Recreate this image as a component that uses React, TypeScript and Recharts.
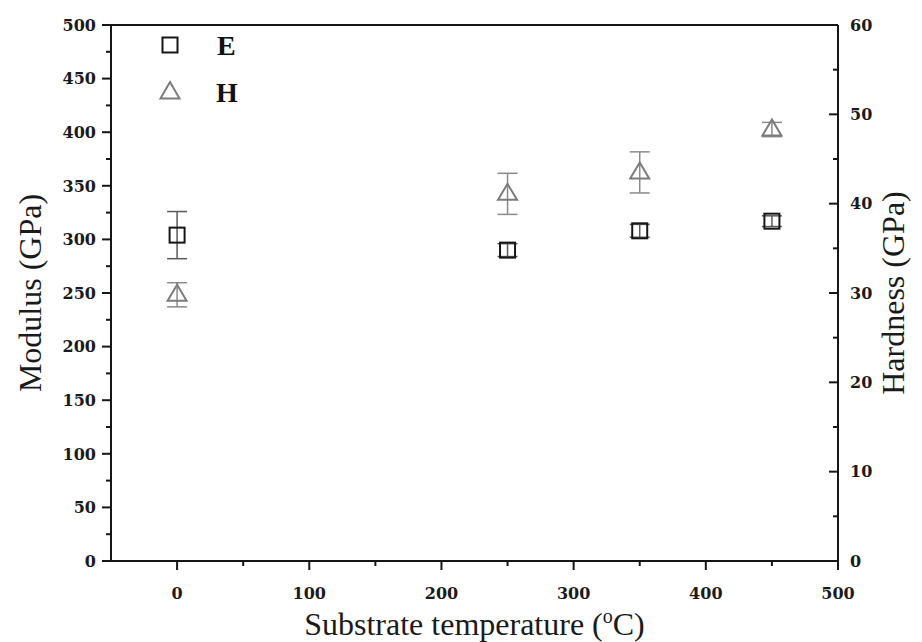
import { ComposedChart, Scatter, XAxis, YAxis, ErrorBar, ReferenceLine, Legend } from "recharts";

const temps = [0, 250, 350, 450];
const modulus = [304, 290, 308, 317];
const modulusErr = [22, 6, 6, 5];
const hardness = [29.8, 41.1, 43.5, 48.3];
const hardnessErr = [1.35, 2.3, 2.3, 0.8];

const xTicks = [0, 50, 100, 150, 200, 250, 300, 350, 400, 450, 500];
const leftTicks = [0, 25, 50, 75, 100, 125, 150, 175, 200, 225, 250, 275, 300, 325, 350, 375, 400, 425, 450, 475, 500];
const rightTicks = [0, 5, 10, 15, 20, 25, 30, 35, 40, 45, 50, 55, 60];

const eData = temps.map((t, i) => ({ t, v: modulus[i], err: modulusErr[i] }));
const hData = temps.map((t, i) => ({ t, v: hardness[i], err: hardnessErr[i] }));

const INK = "#161616";
const GREY = "#7c7c7c";
const tickFont = { fontFamily: "DejaVu Serif", fontWeight: "bold", fontSize: 16, fill: "#1a1a1a" } as const;
const titleFont = { fontFamily: "Liberation Serif", fontSize: 32, fill: "#1a1a1a" } as const;

const Square = (props: any) => {
  const { cx, cy } = props;
  return <rect x={cx - 7.5} y={cy - 7.5} width={15} height={15} fill="none" stroke={INK} strokeWidth={2} />;
};

const Triangle = (props: any) => {
  const { cx, cy } = props;
  return <polygon points={`${cx},${cy - 10} ${cx - 9.5},${cy + 6} ${cx + 9.5},${cy + 6}`} fill="none" stroke={GREY} strokeWidth={2} />;
};

const LeftTick = ({ x, y, payload }: any) => {
  const major = payload.value % 50 === 0;
  return (
    <g>
      <line x1={x} x2={x - (major ? 9 : 5)} y1={y} y2={y} stroke={INK} strokeWidth={2} />
      {major && (
        <text x={x - 15} y={y} dy="0.36em" textAnchor="end" {...tickFont}>
          {payload.value}
        </text>
      )}
    </g>
  );
};

const RightTick = ({ x, y, payload }: any) => {
  const major = payload.value % 10 === 0;
  return (
    <g>
      <line x1={x} x2={x - (major ? 9 : 5)} y1={y} y2={y} stroke={INK} strokeWidth={2} />
      {major && (
        <text x={x + 12} y={y} dy="0.36em" textAnchor="start" {...tickFont}>
          {payload.value}
        </text>
      )}
    </g>
  );
};

const BottomTick = ({ x, y, payload }: any) => {
  const major = payload.value % 100 === 0;
  return (
    <g>
      <line x1={x} x2={x} y1={y} y2={y + (major ? 9 : 5)} stroke={INK} strokeWidth={2} />
      {major && (
        <text x={x} y={y + 32} dy="0.36em" textAnchor="middle" {...tickFont}>
          {payload.value}
        </text>
      )}
    </g>
  );
};

const LeftTitle = ({ viewBox }: any) => {
  const x = viewBox.x - 10;
  const y = viewBox.y + viewBox.height / 2;
  return (
    <text x={x} y={y} transform={`rotate(-90 ${x} ${y})`} textAnchor="middle" {...titleFont}>
      Modulus (GPa)
    </text>
  );
};

const RightTitle = ({ viewBox }: any) => {
  const x = viewBox.x + 66;
  const y = viewBox.y + viewBox.height / 2;
  return (
    <text x={x} y={y} transform={`rotate(-90 ${x} ${y})`} textAnchor="middle" {...titleFont}>
      Hardness (GPa)
    </text>
  );
};

const BottomTitle = ({ viewBox }: any) => {
  const x = viewBox.x + viewBox.width / 2;
  const y = viewBox.y + 74;
  return (
    <text x={x} y={y} textAnchor="middle" {...titleFont}>
      Substrate temperature (
      <tspan dy={-12} fontSize={20}>o</tspan>
      <tspan dy={12}>C)</tspan>
    </text>
  );
};

const LegendBox = () => (
  <svg width={120} height={90}>
    <rect x={12.5} y={12.5} width={15} height={15} fill="none" stroke={INK} strokeWidth={2} />
    <text x={67} y={30} fontFamily="Liberation Serif" fontWeight="bold" fontSize={28} fill="#111">E</text>
    <polygon points="20,57 10.5,73.5 29.5,73.5" fill="none" stroke={GREY} strokeWidth={2} />
    <text x={66} y={77} fontFamily="Liberation Serif" fontWeight="bold" fontSize={28} fill="#111">H</text>
  </svg>
);

export default function App() {
  return (
    <div style={{ position: "absolute", left: 0, top: 0, width: 922, height: 642, background: "#fff" }}>
      <ComposedChart width={922} height={642} margin={{ top: 25, right: 24, bottom: 21, left: 51 }}>
        <XAxis
          dataKey="t"
          type="number"
          domain={[-50, 500]}
          ticks={xTicks}
          interval={0}
          height={60}
          tickSize={0}
          tickMargin={0}
          tickLine={false}
          axisLine={{ stroke: INK, strokeWidth: 2 }}
          tick={<BottomTick />}
          label={<BottomTitle />}
        />
        <YAxis
          yAxisId="left"
          type="number"
          domain={[0, 500]}
          ticks={leftTicks}
          interval={0}
          width={60}
          tickSize={0}
          tickMargin={0}
          tickLine={false}
          axisLine={{ stroke: INK, strokeWidth: 2 }}
          tick={<LeftTick />}
          label={<LeftTitle />}
        />
        <YAxis
          yAxisId="right"
          orientation="right"
          type="number"
          domain={[0, 60]}
          ticks={rightTicks}
          interval={0}
          width={60}
          tickSize={0}
          tickMargin={0}
          tickLine={false}
          axisLine={{ stroke: INK, strokeWidth: 2 }}
          tick={<RightTick />}
          label={<RightTitle />}
        />
        <ReferenceLine yAxisId="left" y={500} stroke={INK} strokeWidth={2} />
        <Legend
          layout="vertical"
          align="center"
          verticalAlign="middle"
          content={<LegendBox />}
          wrapperStyle={{ left: 150, top: 25, width: 120, height: 90 }}
        />
        <Scatter name="E" data={eData} dataKey="v" yAxisId="left" shape={<Square />} isAnimationActive={false}>
          <ErrorBar dataKey="err" direction="y" width={10} stroke="#5a5a5a" strokeWidth={1.5} />
        </Scatter>
        <Scatter name="H" data={hData} dataKey="v" yAxisId="right" shape={<Triangle />} isAnimationActive={false}>
          <ErrorBar dataKey="err" direction="y" width={10} stroke="#8a8a8a" strokeWidth={1.5} />
        </Scatter>
      </ComposedChart>
    </div>
  );
}
